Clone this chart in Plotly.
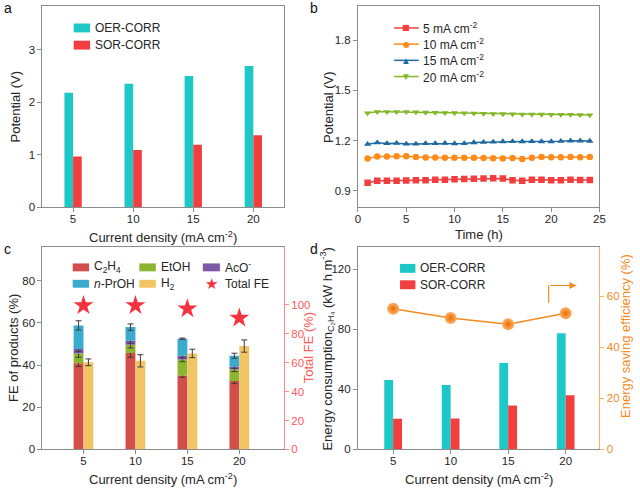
import plotly.graph_objects as go

# ---------------- data ----------------
current = [5, 10, 15, 20]

# panel a
a_oer = [2.18, 2.35, 2.50, 2.69]
a_sor = [0.97, 1.09, 1.19, 1.37]

# panel b
time_h = list(range(1, 25))
b_5 = [0.947, 0.960, 0.960, 0.960, 0.961, 0.962, 0.963, 0.965, 0.966, 0.968, 0.970, 0.972,
       0.973, 0.975, 0.973, 0.962, 0.960, 0.966, 0.965, 0.963, 0.963, 0.965, 0.964, 0.964]
b_10 = [1.093, 1.104, 1.105, 1.106, 1.106, 1.102, 1.099, 1.099, 1.097, 1.097, 1.097, 1.097,
        1.095, 1.094, 1.093, 1.095, 1.090, 1.097, 1.101, 1.100, 1.100, 1.101, 1.100, 1.101]
b_15 = [1.178, 1.187, 1.183, 1.184, 1.180, 1.180, 1.183, 1.183, 1.184, 1.182, 1.183, 1.188,
        1.190, 1.192, 1.194, 1.195, 1.194, 1.195, 1.194, 1.194, 1.196, 1.198, 1.198, 1.197]
b_20 = [1.364, 1.372, 1.372, 1.372, 1.372, 1.370, 1.368, 1.367, 1.366, 1.365, 1.364, 1.363,
        1.361, 1.360, 1.359, 1.358, 1.357, 1.357, 1.356, 1.355, 1.355, 1.355, 1.354, 1.352]
b_names = ["5 mA cm<sup>-2</sup>", "10 mA cm<sup>-2</sup>",
           "15 mA cm<sup>-2</sup>", "20 mA cm<sup>-2</sup>"]

# panel c
c_c2h4 = [40.8, 45.7, 35.1, 32.4]
c_etoh = [4.7, 3.9, 7.5, 5.5]
c_aco = [2.1, 1.9, 1.8, 1.4]
c_nproh = [11.2, 6.5, 8.1, 5.1]
c_h2 = [41.3, 42.0, 45.5, 49.0]
c_c2h4_err = [1.5, 2.0, 0.9, 1.2]
c_etoh_err = [1.8, 1.5, 1.0, 1.0]
c_aco_err = [1.2, 1.2, 1.0, 0.9]
c_nproh_err = [2.2, 1.5, 0.3, 1.2]
c_h2_err = [1.6, 2.9, 2.0, 2.9]
c_total = [99.5, 99.5, 97.3, 90.9]

# panel d
d_oer = [46.3, 42.9, 57.6, 77.5]
d_sor = [20.4, 20.6, 29.2, 36.1]
d_saving = [55.1, 51.5, 49.0, 53.3]

# ---------------- styles ----------------
W, H = 640, 489
FONT = "Liberation Sans, Arial, sans-serif"
GRAY = "#8c8c8c"
TXT = "#262626"
CYAN = "#1ec8c6"
RED = "#f23e3e"
C_COLORS = {"c2h4": "#d24e4b", "etoh": "#8db531", "aco": "#7d5aa6",
            "nproh": "#3baacf", "h2": "#f1c565"}
B_COLORS = ["#f23e3e", "#ff8c1a", "#1f6aa0", "#84b82a"]
B_SYMBOLS = ["square", "circle", "triangle-up", "triangle-down"]
B_GLYPHS = ["■", "●", "▲", "▼"]
FE_RED = "#ff5a5a"
ORANGE = "#f58a1f"


def px(x):
    return x / W


def py(y):
    return 1 - y / H


fig = go.Figure()

# ---- panel a ----
fig.add_trace(go.Bar(x=current, y=a_oer, width=0.72, offset=-0.72, marker_color=CYAN,
                     marker_line_width=0, xaxis="x", yaxis="y", showlegend=False))
fig.add_trace(go.Bar(x=current, y=a_sor, width=0.72, offset=0, marker_color=RED,
                     marker_line_width=0, xaxis="x", yaxis="y", showlegend=False))

# ---- panel b ----
for name, vals, col, sym in zip(b_names, [b_5, b_10, b_15, b_20], B_COLORS, B_SYMBOLS):
    fig.add_trace(go.Scatter(x=time_h, y=vals, name=name, mode="lines+markers",
                             line=dict(color=col, width=1.5),
                             marker=dict(symbol=sym, size=6.5, color=col),
                             xaxis="x2", yaxis="y2", showlegend=False))

# ---- panel c ----
base = [0, 0, 0, 0]
for key, vals, errs in [("c2h4", c_c2h4, c_c2h4_err), ("etoh", c_etoh, c_etoh_err),
                        ("aco", c_aco, c_aco_err), ("nproh", c_nproh, c_nproh_err)]:
    fig.add_trace(go.Bar(x=current, y=vals, base=list(base), width=0.95, offset=-0.95,
                         marker_color=C_COLORS[key], marker_line_width=0,
                         error_y=dict(type="data", array=errs, color="#3a3a3a",
                                      thickness=1, width=3),
                         xaxis="x3", yaxis="y3", showlegend=False))
    base = [b + v for b, v in zip(base, vals)]
fig.add_trace(go.Bar(x=current, y=c_h2, width=0.95, offset=0,
                     marker_color=C_COLORS["h2"], marker_line_width=0,
                     error_y=dict(type="data", array=c_h2_err, color="#3a3a3a",
                                  thickness=1, width=3),
                     xaxis="x3", yaxis="y3", showlegend=False))
fig.add_trace(go.Scatter(x=current, y=c_total, mode="markers",
                         marker=dict(symbol="star", size=15, color="#f5333f"),
                         xaxis="x3", yaxis="y4", showlegend=False))

# ---- panel d ----
fig.add_trace(go.Bar(x=current, y=d_oer, width=0.77, offset=-0.77, marker_color=CYAN,
                     marker_line_width=0, xaxis="x4", yaxis="y5", showlegend=False))
fig.add_trace(go.Bar(x=current, y=d_sor, width=0.77, offset=0, marker_color=RED,
                     marker_line_width=0, xaxis="x4", yaxis="y5", showlegend=False))
fig.add_trace(go.Scatter(x=current, y=d_saving, mode="lines+markers",
                         line=dict(color=ORANGE, width=1.5),
                         marker=dict(size=12, color="#ffb066",
                                     gradient=dict(type="radial", color="#e86f00"),
                                     line=dict(width=0)),
                         xaxis="x4", yaxis="y6", showlegend=False))

# ---------------- axes ----------------
dom_l = [px(40), px(285)]
dom_r = [px(360), px(605)]
dom_top = [py(210), py(6)]
dom_bot = [py(455), py(250)]

tickfont = dict(family=FONT, size=11.5, color=TXT)


def ax(**kw):
    d = dict(showgrid=False, zeroline=False, showline=True, linecolor=GRAY, linewidth=1,
             ticks="outside", ticklen=4, tickcolor=GRAY, tickfont=tickfont)
    d.update(kw)
    return d


def xax(**kw):
    return ax(ticklabelstandoff=-3, mirror=True, **kw)


fig.update_layout(
    xaxis=xax(domain=dom_l, anchor="y", range=[2.45, 22.55], tickvals=current),
    yaxis=ax(domain=dom_top, anchor="x", range=[0, 3.83], tickvals=[0, 1, 2, 3], mirror=True),
    xaxis2=xax(domain=dom_r, anchor="y2", range=[0, 25], tickvals=[0, 5, 10, 15, 20, 25]),
    yaxis2=ax(domain=dom_top, anchor="x2", range=[0.8, 2.005], tickvals=[0.9, 1.2, 1.5, 1.8],
              ticktext=["0.9", "1.2", "1.5", "1.8"], mirror=True),
    xaxis3=xax(domain=dom_l, anchor="y3", range=[1.05, 24.3], tickvals=current),
    yaxis3=ax(domain=dom_bot, anchor="x3", range=[0, 96], tickvals=[0, 20, 40, 60, 80]),
    yaxis4=ax(domain=dom_bot, anchor="x3", overlaying="y3", side="right", range=[0, 140],
              tickvals=[0, 20, 40, 60, 80, 100], linecolor="#ff8a8a", tickcolor="#ff8a8a",
              tickfont=dict(family=FONT, size=11.5, color=FE_RED)),
    xaxis4=xax(domain=dom_r, anchor="y5", range=[1.94, 22.94], tickvals=current),
    yaxis5=ax(domain=dom_bot, anchor="x4", range=[0, 135], tickvals=[0, 40, 80, 120]),
    yaxis6=ax(domain=dom_bot, anchor="x4", overlaying="y5", side="right", range=[0, 79.3],
              tickvals=[0, 20, 40, 60], linecolor="#f8b070", tickcolor="#f8b070",
              tickfont=dict(family=FONT, size=11.5, color=ORANGE)),
)

fig.update_layout(
    width=W, height=H, margin=dict(l=0, r=0, t=0, b=0),
    paper_bgcolor="white", plot_bgcolor="rgba(0,0,0,0)",
    barmode="overlay", font=dict(family=FONT, color=TXT), showlegend=False,
)

shapes = []
annots = []


def text(x, y, s, size=13, color=TXT, angle=0, xanchor="center", family=FONT):
    annots.append(dict(xref="paper", yref="paper", x=px(x), y=py(y), text=s,
                       showarrow=False, xanchor=xanchor, yanchor="middle", textangle=angle,
                       font=dict(family=family, size=size, color=color)))


# ---------------- axis titles ----------------
xt = "Current density (mA cm<sup>-2</sup>)"
text(162.5, 240, xt)
text(13, 108, "Potential (V)", angle=-90)
text(482.5, 237.5, "Time (h)")
text(330, 108, "Potential (V)", angle=-90)
text(162.5, 484.5, xt)
text(10, 352.5, "FE of products (%)", angle=-90)
text(310, 352, "Total FE (%)", color=FE_RED, angle=-90)
text(482.5, 484.5, xt)
text(328.5, 353, "Energy consumption<sub>C₂H₄</sub> (kW h m<sup>-3</sup>)", angle=-90)
text(632, 340, "Energy saving efficiency (%)", color=ORANGE, angle=-90)


# ---------------- custom legends ----------------
def swatch(x0, x1, yc, h, color, label):
    shapes.append(dict(type="rect", xref="paper", yref="paper", x0=px(x0), x1=px(x1),
                       y0=py(yc + h / 2), y1=py(yc - h / 2), fillcolor=color, line_width=0))
    text(x1 + 3, yc, label, size=12, xanchor="left")


# panel a
swatch(71.7, 88.3, 28.3, 9, CYAN, "OER-CORR")
swatch(71.7, 88.3, 45.7, 9, RED, "SOR-CORR")
# panel d
swatch(402.7, 418.3, 271.7, 9, CYAN, "OER-CORR")
swatch(402.7, 418.3, 288.3, 9, RED, "SOR-CORR")
# panel c
swatch(70.7, 87.3, 270.7, 8, C_COLORS["c2h4"], "C<sub>2</sub>H<sub>4</sub>")
swatch(138.3, 155.0, 270.7, 8, C_COLORS["etoh"], "EtOH")
swatch(202.7, 220.0, 270.7, 8, C_COLORS["aco"], "AcO<sup>-</sup>")
swatch(70.7, 87.3, 287.3, 8, C_COLORS["nproh"], "<i>n</i>-PrOH")
swatch(138.3, 155.0, 287.3, 8, C_COLORS["h2"], "H<sub>2</sub>")
text(211, 287.3, "★", size=15, color="#f5333f", family="DejaVu Sans")
text(223, 287.3, "Total FE", size=12, xanchor="left")

# panel b (line + marker legend)
for i, (name, col, glyph) in enumerate(zip(b_names, B_COLORS, B_GLYPHS)):
    yc = 28.3 + i * 16.4
    shapes.append(dict(type="line", xref="paper", yref="paper", x0=px(396.7), x1=px(421.7),
                       y0=py(yc), y1=py(yc), line=dict(color=col, width=1.5)))
    text(409.2, yc, glyph, size=8 if glyph in "■●" else 7.5, color=col, family="DejaVu Sans")
    text(424, yc, name, size=12, xanchor="left")

# panel d arrow (points to right axis)
shapes.append(dict(type="line", xref="x4", yref="y6", x0=18.52, x1=18.52, y0=57.3, y1=64.2,
                   line=dict(color=ORANGE, width=1.2)))
annots.append(dict(xref="x4", yref="y6", axref="x4", ayref="y6", x=20.95, y=64.2,
                   ax=18.52, ay=64.2, text="", showarrow=True, arrowhead=2, arrowsize=1.2,
                   arrowwidth=1.2, arrowcolor=ORANGE))

# panel labels
for lab, x, y in [("a", 5, 8), ("b", 315, 8), ("c", 5, 252), ("d", 315, 252)]:
    text(x, y, lab, size=14, color="#111")

fig.update_layout(shapes=shapes, annotations=annots)

fig.write_html("out.html", config={"displayModeBar": False},
               post_script="document.body.style.margin='0';document.body.style.padding='0';")
